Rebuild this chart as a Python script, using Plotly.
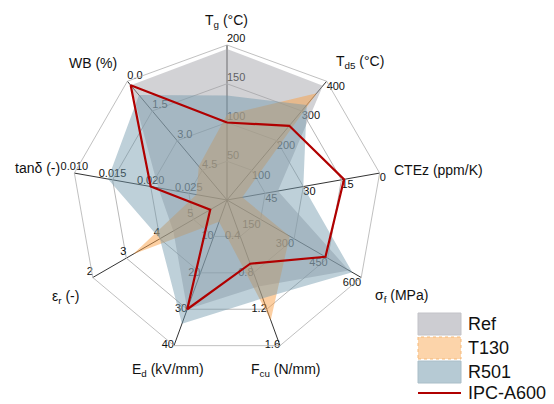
import plotly.graph_objects as go

W, H = 554, 404

# ---- data ----
axis_keys = ["Tg", "Td5", "CTEz", "sf", "Fcu", "Ed", "er", "tand", "WB"]
axis_titles = ["T<sub>g</sub> (°C)", "T<sub>d5</sub> (°C)", "CTEz (ppm/K)", "σ<sub>f</sub> (MPa)",
               "F<sub>cu</sub> (N/mm)", "E<sub>d</sub> (kV/mm)", "ε<sub>r</sub> (-)", "tanδ (-)", "WB (%)"]
# value at center and at the outer ring for each axis
axis_center = [0, 0, 60, 0, 0, 0, 6, 0.030, 6.0]
axis_outer = [200, 400, 0, 600, 1.6, 40, 2, 0.010, 0.0]
tick_labels = [
    ["50", "100", "150", "200"],
    ["100", "200", "300", "400"],
    ["45", "30", "15", "0"],
    ["150", "300", "450", "600"],
    ["0.4", "0.8", "1.2", "1.6"],
    ["10", "20", "30", "40"],
    ["5", "4", "3", "2"],
    ["0.025", "0.020", "0.015", "0.010"],
    ["4.5", "3.0", "1.5", "0.0"],
]
ref_vals = [195, 385, 40, 545, 0.95, 30, 4.4, 0.021, 0.2]
t130_vals = [110, 360, 54, 280, 1.32, 6, 3.2, 0.026, 4.3]
r501_vals = [135, 320, 30, 560, 1.08, 34, 4.0, 0.0144, 0.7]
ipc_vals = [100, 250, 14, 440, 0.70, 30, 5.5, 0.020, 0.2]

levels = [0.25, 0.5, 0.75, 1.0]


def norm(vals):
    return [(v - c) / (o - c) for v, c, o in zip(vals, axis_center, axis_outer)]


def closed(lst):
    return list(lst) + [lst[0]]


FONT = "Arial, Liberation Sans, sans-serif"
fig = go.Figure()

# tick labels (drawn first so fills tint them)
tick_pos = ["top right", "bottom right", "bottom right", "bottom left", "middle left",
            "middle left", "top left", "top center", "top right"]
tr, tt, tx, tp = [], [], [], []
for i, k in enumerate(axis_keys):
    for j, lv in enumerate(levels):
        tr.append(lv)
        tt.append(k)
        tx.append(tick_labels[i][j])
        tp.append(tick_pos[i])
fig.add_trace(go.Scatterpolar(r=tr, theta=tt, text=tx, mode="text", textposition=tp,
                              textfont=dict(size=11, color="#111", family=FONT),
                              showlegend=False, hoverinfo="skip"))

series = [
    ("Ref", ref_vals, "rgba(165,165,172,0.5)"),
    ("T130", t130_vals, "rgba(250,160,70,0.5)"),
    ("R501", r501_vals, "rgba(110,150,170,0.45)"),
]
for name, vals, col in series:
    fig.add_trace(go.Scatterpolar(r=closed(norm(vals)), theta=closed(axis_keys), fill="toself",
                                  fillcolor=col, mode="lines", line=dict(width=0, color=col),
                                  name=name, showlegend=False))
fig.add_trace(go.Scatterpolar(r=closed(norm(ipc_vals)), theta=closed(axis_keys), mode="lines",
                              line=dict(color="#b00000", width=2.2), name="IPC-A600",
                              showlegend=False))

cx, cy, R = 227, 200, 155
fig.update_layout(
    width=W, height=H, margin=dict(l=0, r=0, t=0, b=0),
    paper_bgcolor="white", plot_bgcolor="white",
    polar=dict(
        domain=dict(x=[(cx - R) / W, (cx + R) / W], y=[(H - cy - R) / H, (H - cy + R) / H]),
        bgcolor="rgba(0,0,0,0)",
        gridshape="linear",
        radialaxis=dict(range=[0, 1], tickvals=levels, showticklabels=False, ticks="",
                        showline=False, gridcolor="#b8b8b8", gridwidth=0.8),
        angularaxis=dict(rotation=90, direction="clockwise", showticklabels=False, ticks="",
                         showline=True, linecolor="#b0b0b0", linewidth=0.8,
                         gridcolor="#333333", gridwidth=0.8),
    ),
    showlegend=False,
)

# axis titles
title_pos = [(226, 21), (360, 62), (438, 170), (401, 296), (285, 370), (168, 370),
             (65, 297), (37, 168), (93, 63)]
for t, (px, py) in zip(axis_titles, title_pos):
    fig.add_annotation(x=px / W, y=1 - py / H, xref="paper", yref="paper", text=t,
                       showarrow=False, font=dict(size=14, color="#111", family=FONT),
                       xanchor="center", yanchor="middle")

# custom legend
leg_names = ["Ref", "T130", "R501"]
leg_cols = ["rgba(205,205,210,1)", "rgba(252,212,170,1)", "rgba(182,202,212,1)"]
leg_lines = ["rgba(195,195,200,1)", "rgba(245,185,120,1)", "rgba(170,190,200,1)"]
leg_y = [324, 348, 372]
for nm, fc, lc, yy in zip(leg_names, leg_cols, leg_lines, leg_y):
    fig.add_shape(type="rect", xref="paper", yref="paper", x0=418 / W, x1=461 / W,
                  y0=1 - (yy + 11) / H, y1=1 - (yy - 11) / H, fillcolor=fc,
                  line=dict(color=lc, width=1, dash="dot" if nm == "T130" else "solid"))
    fig.add_annotation(x=466 / W, y=1 - yy / H, xref="paper", yref="paper", text=nm,
                       showarrow=False, xanchor="left", yanchor="middle",
                       font=dict(size=18, color="#111", family=FONT))
fig.add_shape(type="line", xref="paper", yref="paper", x0=418 / W, x1=461 / W,
              y0=1 - 393 / H, y1=1 - 393 / H, line=dict(color="#b00000", width=2.2))
fig.add_annotation(x=466 / W, y=1 - 393 / H, xref="paper", yref="paper", text="IPC-A600",
                   showarrow=False, xanchor="left", yanchor="middle",
                   font=dict(size=18, color="#111", family=FONT))

fig.write_html("out.html", config={"displayModeBar": False},
               post_script="document.body.style.margin='0';document.body.style.padding='0';")
